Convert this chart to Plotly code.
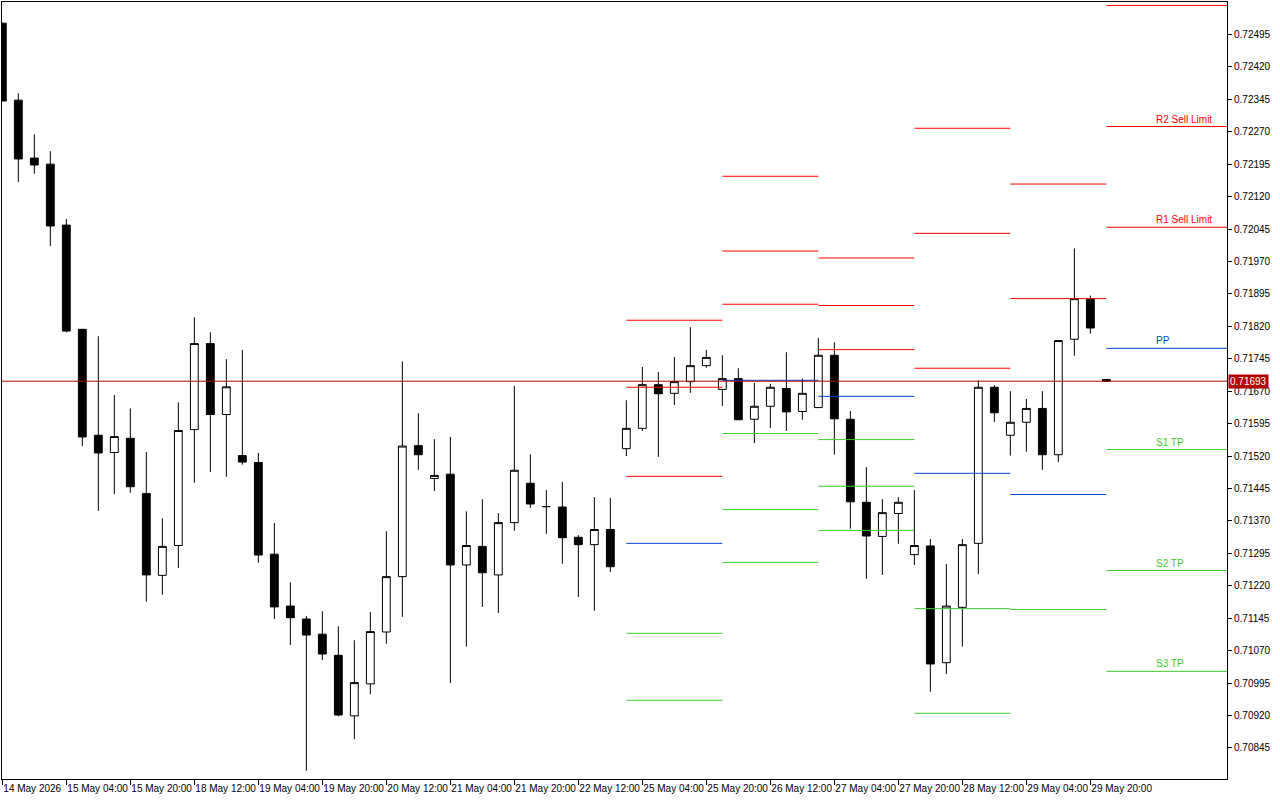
import plotly.graph_objects as go

# ---------------- data ----------------
bar_index = list(range(70))
open_ = [0.72521, 0.72343, 0.72209, 0.72195, 0.72054, 0.71813, 0.71568, 0.71528, 0.71561, 0.71433,
         0.71244, 0.71313, 0.71581, 0.71780, 0.71616, 0.71521, 0.71505, 0.71293, 0.71173, 0.71143,
         0.71108, 0.71059, 0.70919, 0.70993, 0.71113, 0.71241, 0.71544, 0.71468, 0.71478, 0.71268,
         0.71311, 0.71245, 0.71366, 0.71457, 0.71403, 0.71402, 0.71332, 0.71315, 0.71350, 0.71537,
         0.71584, 0.71685, 0.71665, 0.71692, 0.71729, 0.71674, 0.71699, 0.71605, 0.71635, 0.71676,
         0.71623, 0.71632, 0.71753, 0.71605, 0.71413, 0.71334, 0.71387, 0.71292, 0.71312, 0.71042,
         0.71170, 0.71318, 0.71679, 0.71568, 0.71598, 0.71630, 0.71523, 0.71790, 0.71883, 0.71697]
high = [0.72522, 0.72359, 0.72264, 0.72225, 0.72068, 0.71814, 0.71797, 0.71661, 0.71630, 0.71529,
        0.71376, 0.71644, 0.71841, 0.71806, 0.71744, 0.71765, 0.71527, 0.71365, 0.71228, 0.71150,
        0.71161, 0.71126, 0.71094, 0.71159, 0.71346, 0.71739, 0.71619, 0.71559, 0.71564, 0.71392,
        0.71420, 0.71388, 0.71682, 0.71524, 0.71441, 0.71460, 0.71337, 0.71425, 0.71423, 0.71649,
        0.71726, 0.71714, 0.71749, 0.71818, 0.71765, 0.71753, 0.71723, 0.71689, 0.71687, 0.71760,
        0.71699, 0.71793, 0.71783, 0.71624, 0.71494, 0.71420, 0.71425, 0.71441, 0.71328, 0.71270,
        0.71328, 0.71695, 0.71684, 0.71670, 0.71652, 0.71670, 0.71788, 0.72000, 0.71891, 0.71698]
low = [0.72341, 0.72154, 0.72173, 0.72006, 0.71806, 0.71543, 0.71393, 0.71432, 0.71435, 0.71183,
       0.71199, 0.71261, 0.71458, 0.71483, 0.71472, 0.71500, 0.71273, 0.71143, 0.71083, 0.70792,
       0.71048, 0.70918, 0.70865, 0.70969, 0.71086, 0.71148, 0.71488, 0.71439, 0.70995, 0.71079,
       0.71171, 0.71157, 0.71347, 0.71400, 0.71340, 0.71271, 0.71194, 0.71162, 0.71252, 0.71520,
       0.71578, 0.71518, 0.71638, 0.71666, 0.71724, 0.71636, 0.71603, 0.71550, 0.71585, 0.71578,
       0.71604, 0.71631, 0.71523, 0.71352, 0.71236, 0.71245, 0.71317, 0.71268, 0.70975, 0.71016,
       0.71079, 0.71247, 0.71599, 0.71521, 0.71530, 0.71488, 0.71506, 0.71752, 0.71803, 0.71692]
close = [0.72341, 0.72207, 0.72193, 0.72052, 0.71809, 0.71564, 0.71527, 0.71565, 0.71449, 0.71245,
         0.71311, 0.71579, 0.71780, 0.71616, 0.71680, 0.71506, 0.71291, 0.71171, 0.71146, 0.71106,
         0.71062, 0.70921, 0.70996, 0.71114, 0.71241, 0.71543, 0.71523, 0.71475, 0.71268, 0.71313,
         0.71250, 0.71366, 0.71487, 0.71409, 0.71403, 0.71331, 0.71315, 0.71350, 0.71264, 0.71584,
         0.71685, 0.71664, 0.71692, 0.71729, 0.71748, 0.71699, 0.71604, 0.71635, 0.71679, 0.71622,
         0.71665, 0.71753, 0.71606, 0.71414, 0.71335, 0.71389, 0.71413, 0.71313, 0.71039, 0.71173,
         0.71315, 0.71679, 0.71620, 0.71598, 0.71630, 0.71523, 0.71787, 0.71884, 0.71816, 0.71693]

# daily pivot levels (one value per day segment; None = outside visible range)
day_start = [39, 45, 51, 57, 63, 69]
R3 = [0.71834, 0.72167, 0.71978, 0.72278, None, 0.72562]
R2 = [0.71679, 0.71994, 0.71868, 0.72035, 0.72149, 0.72282]
R1 = [0.71473, 0.71871, 0.71766, 0.71723, 0.71884, 0.72049]
PP = [0.71318, 0.71695, 0.71658, 0.71480, 0.71431, 0.71769]
S1 = [0.71110, 0.71572, 0.71558, 0.71167, 0.71165, 0.71535]
S2 = [0.70955, 0.71396, 0.71450, 0.70925, None, 0.71255]
S3 = [None, 0.71274, 0.71348, None, None, 0.71022]
current_price = 0.71693

level_labels = ["R2 Sell Limit", "R1 Sell Limit", "PP", "S1 TP", "S2 TP", "S3 TP"]

xtick_index = [0, 4, 8, 12, 16, 20, 24, 28, 32, 36, 40, 44, 48, 52, 56, 60, 64, 68]
xtick_text = ["14 May 2026", "15 May 04:00", "15 May 20:00", "18 May 12:00", "19 May 04:00",
              "19 May 20:00", "20 May 12:00", "21 May 04:00", "21 May 20:00", "22 May 12:00",
              "25 May 04:00", "25 May 20:00", "26 May 12:00", "27 May 04:00", "27 May 20:00",
              "28 May 12:00", "29 May 04:00", "29 May 20:00"]
ytick_vals = [0.70845, 0.70920, 0.70995, 0.71070, 0.71145, 0.71220, 0.71295, 0.71370, 0.71445,
              0.71520, 0.71595, 0.71670, 0.71745, 0.71820, 0.71895, 0.71970, 0.72045, 0.72120,
              0.72195, 0.72270, 0.72345, 0.72420, 0.72495]

# ---------------- styling ----------------
X_RANGE = [-0.02, 76.54]
Y_RANGE = [0.70773, 0.72570]
RED = "#ff0000"
BLUE = "#0046d5"
GREEN = "#3ccd2c"
PRICE_RED = "#b40000"
FONT = "Liberation Sans, Arial, sans-serif"

fig = go.Figure()

fig.add_trace(go.Candlestick(
    x=bar_index, open=open_, high=high, low=low, close=close,
    increasing=dict(line=dict(color="black", width=1), fillcolor="white"),
    decreasing=dict(line=dict(color="black", width=1), fillcolor="black"),
    whiskerwidth=0, showlegend=False, hoverinfo="skip"))


def seg_xy(levels):
    xs, ys = [], []
    for k, v in enumerate(levels):
        if v is None:
            continue
        x0 = day_start[k]
        x1 = day_start[k + 1] if k + 1 < len(day_start) else X_RANGE[1]
        xs += [x0, x1, None]
        ys += [v, v, None]
    return xs, ys


for levels, color in [(R3, RED), (R2, RED), (R1, RED), (PP, BLUE), (S1, GREEN), (S2, GREEN), (S3, GREEN)]:
    xs, ys = seg_xy(levels)
    fig.add_trace(go.Scatter(x=xs, y=ys, mode="lines", line=dict(color=color, width=1),
                             showlegend=False, hoverinfo="skip"))

# current price line
fig.add_shape(type="line", xref="paper", x0=0, x1=1, yref="y", y0=current_price, y1=current_price,
              line=dict(color=PRICE_RED, width=1))

# price label on axis
fig.add_annotation(xref="paper", x=1, xanchor="left", xshift=1, yref="y", y=current_price,
                   text=f"{current_price:.5f}", showarrow=False, bgcolor=PRICE_RED,
                   font=dict(color="white", size=10, family=FONT), borderpad=1)

# labels for last day's levels
label_levels = [R2[-1], R1[-1], PP[-1], S1[-1], S2[-1], S3[-1]]
label_colors = [RED, RED, BLUE, GREEN, GREEN, GREEN]
for txt, lv, col in zip(level_labels, label_levels, label_colors):
    fig.add_annotation(x=72, y=lv, xanchor="left", yanchor="bottom", text=txt, showarrow=False,
                       font=dict(color=col, size=10, family=FONT), yshift=0)

fig.update_layout(
    width=1280, height=800,
    margin=dict(l=2, r=53, t=2, b=21),
    paper_bgcolor="white", plot_bgcolor="white",
    showlegend=False,
    font=dict(family=FONT, size=10, color="black"),
)
fig.update_xaxes(range=X_RANGE, tickvals=xtick_index, ticktext=xtick_text, tickangle=0,
                 automargin=False,
                 ticks="outside", ticklen=5, tickcolor="black", tickwidth=1,
                 showline=True, linecolor="black", linewidth=1, mirror=True,
                 showgrid=False, zeroline=False, ticklabelposition="outside right",
                 rangeslider=dict(visible=False))
fig.update_yaxes(side="right", range=Y_RANGE, tickvals=ytick_vals, automargin=False,
                 ticktext=[f"{v:.5f}" for v in ytick_vals],
                 ticks="outside", ticklen=4, tickcolor="black", tickwidth=1,
                 showline=True, linecolor="black", linewidth=1, mirror=True,
                 showgrid=False, zeroline=False)

fig.write_html("out.html")
